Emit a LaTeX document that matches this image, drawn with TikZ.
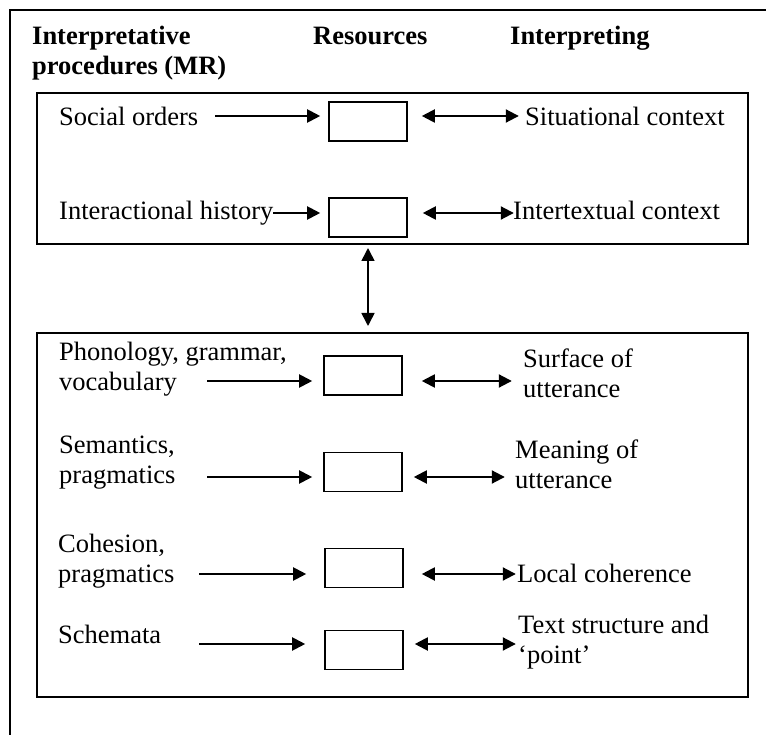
\documentclass[tikz,border=0pt]{standalone}
\usepackage{fontspec}
\setmainfont{Liberation Serif}
\usetikzlibrary{arrows.meta}

\begin{document}
\begin{tikzpicture}[
  x=1pt, y=-1pt,
  font=\fontsize{26.5}{30}\selectfont,
  head/.style={font=\fontsize{26.5}{30}\selectfont\bfseries, anchor=base west, inner sep=0pt, align=left},
  src/.style={anchor=base west, inner sep=0pt, align=left},
  intp/.style={src},
  panel/.style={draw, line width=2pt, minimum width=711pt, inner sep=0pt},
  res/.style={draw, line width=1.6pt, minimum width=78pt, minimum height=39pt, inner sep=0pt},
  arr/.style={-{Triangle[length=13pt, width=13pt]}, line width=2pt},
  barr/.style={{Triangle[length=13pt, width=13pt]}-{Triangle[length=13pt, width=13pt]}, line width=2pt}
]
\useasboundingbox (0,0) rectangle (766,735);
\clip (0,0) rectangle (766,735);
% ----- outer frame (runs off the page) -----
\draw[line width=2pt] (10,10) rectangle (800,770);
% ----- column heads (multi-line nodes sit on their last line) -----
\node[head] (hproc) at (32,75)  {Interpretative\\procedures (MR)};
\node[head] (hres)  at (313,45) {Resources};
\node[head] (hint)  at (510,45) {Interpreting};
% ----- the two panels -----
\node[panel, minimum height=151pt] (upper) at (392.5,168.5) {};
\node[panel, minimum height=364pt] (lower) at (392.5,515)   {};
% ----- resource boxes -----
\node[res] (r1) at (368,121.5) {};
\node[res] (r2) at (368,217.5) {};
\node[res] (r3) at (363,375.5) {};
\node[res] (r4) at (363,472)   {};
\node[res] (r5) at (364,568)   {};
\node[res] (r6) at (364,650)   {};
% ----- procedures (left) -----
\node[src] (so) at (59,126) {Social orders};
\node[src] (ih) at (59,220) {Interactional history};
\node[src] (pg) at (59,390) {Phonology, grammar,\\vocabulary};
\node[src] (sp) at (59,483) {Semantics,\\pragmatics};
\node[src] (cp) at (58,582) {Cohesion,\\pragmatics};
\node[src] (sc) at (58,643) {Schemata};
% ----- interpreting (right) -----
\node[intp] (sit) at (525,126) {Situational context};
\node[intp] (itx) at (513,220) {Intertextual context};
\node[intp] (sou) at (523,397) {Surface of\\utterance};
\node[intp] (mou) at (515,488) {Meaning of\\utterance};
\node[intp] (loc) at (517,582) {Local coherence};
\node[intp] (tsp) at (518,663) {Text structure and\\‘point’};
% ----- arrows into and out of each box -----
\foreach \b/\ia/\ib/\oa/\ob/\dy in {r1/-113/-8/14/111/5.5, r2/-55/-8/15/106/4.5,
    r3/-116/-11/19/109/-5.5, r4/-116/-11/11/102/-5, r5/-125/-18/18/112/-6, r6/-125/-19/11/112/6}{
  \draw[arr]  ([xshift=\ia pt, yshift=\dy pt]\b.west) -- ([xshift=\ib pt, yshift=\dy pt]\b.west);
  \draw[barr] ([xshift=\oa pt, yshift=\dy pt]\b.east) -- ([xshift=\ob pt, yshift=\dy pt]\b.east);
}
% ----- link between the panels -----
\draw[barr, line width=1.6pt, shorten <=3pt, shorten >=6pt] (upper.south -| r2) -- (lower.north -| r2);
\end{tikzpicture}
\end{document}
